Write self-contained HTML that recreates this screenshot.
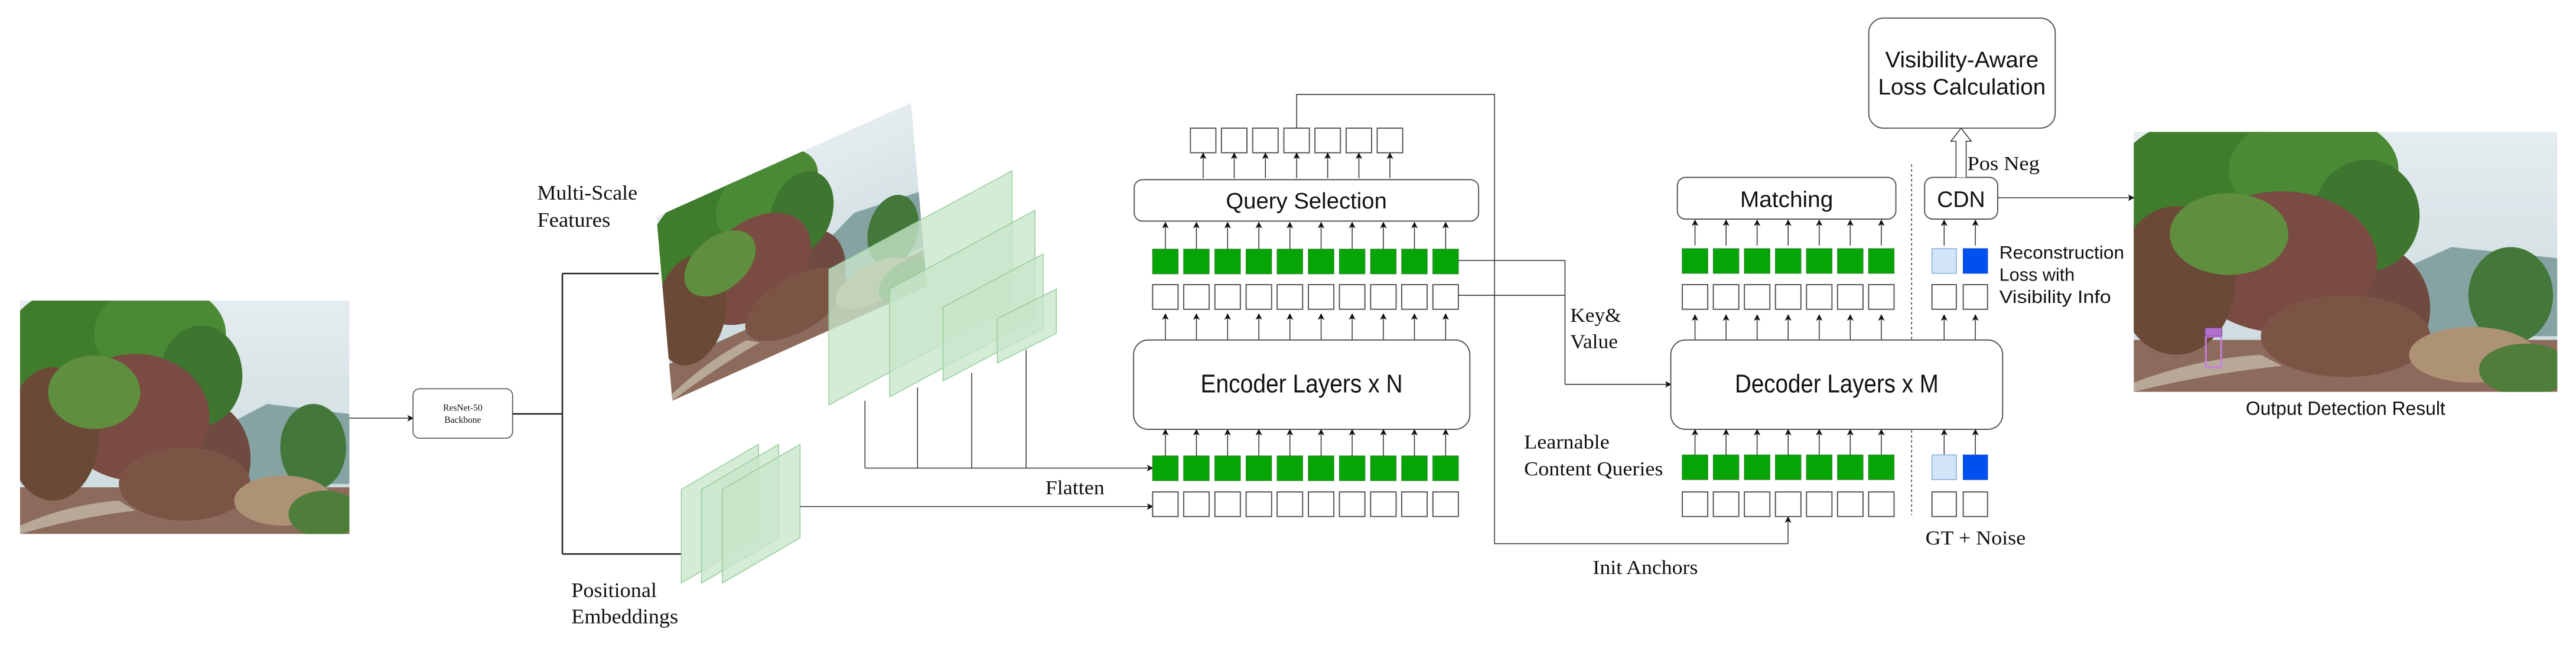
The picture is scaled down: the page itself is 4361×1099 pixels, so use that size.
<!DOCTYPE html>
<html><head><meta charset="utf-8"><style>
html,body{margin:0;padding:0;background:#fff;}
svg{display:block;}
.s{font-family:"Liberation Sans",sans-serif;fill:#111;}
.r{font-family:"Liberation Serif",serif;fill:#111;}
.w{fill:#fff;stroke:#555;stroke-width:0.7;}
.g{fill:#04a504;stroke:#2e8b2e;stroke-width:0.5;}
.ln{stroke:#333;stroke-width:0.55;fill:none;}
.pl{fill:#c8e6cb;fill-opacity:0.78;stroke:#90cc92;stroke-width:0.5;}
</style></head><body>
<svg width="4361" height="1099" viewBox="0 0 1568 395.14" preserveAspectRatio="none" xmlns="http://www.w3.org/2000/svg">
<defs>
<marker id="a" markerWidth="4" markerHeight="4" refX="3.5" refY="2" orient="auto" markerUnits="userSpaceOnUse"><path d="M0,0 L4,2 L0,4 L1,2 z" fill="#111"/></marker>
<clipPath id="pc"><rect x="0" y="0" width="200" height="140"/></clipPath>
<linearGradient id="sky" x1="0" y1="0" x2="0" y2="1"><stop offset="0" stop-color="#e4ecef"/><stop offset="1" stop-color="#c9d8dc"/></linearGradient>
<g id="ph" clip-path="url(#pc)">
<rect x="0" y="0" width="200" height="140" fill="url(#sky)"/>
<path d="M115,80 L150,62 L200,68 L200,110 L115,110z" fill="#86a3a3"/>
<rect x="0" y="112" width="200" height="28" fill="#8c6b5c"/>
<ellipse cx="110" cy="95" rx="30" ry="35" fill="#6e4a40"/>
<ellipse cx="35" cy="30" rx="45" ry="38" fill="#3f7d2d"/>
<ellipse cx="85" cy="20" rx="40" ry="30" fill="#4b8a35"/>
<ellipse cx="110" cy="45" rx="25" ry="30" fill="#3e7630"/>
<ellipse cx="70" cy="70" rx="45" ry="38" fill="#7a4b42"/>
<ellipse cx="20" cy="80" rx="28" ry="40" fill="#6a4a36"/>
<ellipse cx="45" cy="55" rx="28" ry="22" fill="#5f8f3e"/>
<ellipse cx="100" cy="110" rx="40" ry="22" fill="#7b5446"/>
<ellipse cx="178" cy="88" rx="20" ry="26" fill="#43783a"/>
<ellipse cx="160" cy="120" rx="30" ry="15" fill="#ae9276"/>
<ellipse cx="185" cy="128" rx="22" ry="14" fill="#4f7d3a"/>
<path d="M0,135 Q30,122 60,120 L70,126 Q35,130 0,140z" fill="#b8a898"/>
</g>
</defs>

<use href="#ph" transform="translate(12.2,183) scale(1.0025,1.015)"/>
<line x1="212.7" y1="254.6" x2="251.4" y2="254.6" class="ln" marker-end="url(#a)"/>
<rect x="251.4" y="236.7" width="60.6" height="30.1" rx="4" fill="#fff" stroke="#555" stroke-width="0.6"/>
<text x="281.7" y="250" class="r" font-size="5.6" text-anchor="middle" fill="#444">ResNet-50</text>
<text x="281.7" y="257.5" class="r" font-size="5.6" text-anchor="middle" fill="#444">Backbone</text>
<path d="M312,252 H342.3 M342.3,166.5 V337.3 M342.3,166.5 H401 M342.3,337.3 H415" stroke="#222" stroke-width="0.9" fill="none"/>

<text x="327" y="121.5" class="r" font-size="12.5" textLength="61" lengthAdjust="spacingAndGlyphs">Multi-Scale</text>
<text x="327" y="138" class="r" font-size="12.5" textLength="44.5" lengthAdjust="spacingAndGlyphs">Features</text>

<use href="#ph" transform="matrix(0.775,-0.3475,0.0686,0.8,399.6,132)"/>
<polygon class="pl" points="504.5,164 616,104 616,186.6 504.5,246.6"/>
<polygon class="pl" points="541.5,176 630,128 630,193.7 541.5,241.7"/>
<polygon class="pl" points="574,187 635,154.6 635,199.6 574,232"/>
<polygon class="pl" points="607,194 643,176 643,203 607,221"/>
<path class="ln" d="M526.5,244 V285 M558.5,236 V285 M591.5,227 V285 M624.6,213 V285"/>
<line x1="526.5" y1="285" x2="701.6" y2="285" class="ln" marker-end="url(#a)"/>
<text x="636.3" y="301" class="r" font-size="12" textLength="36" lengthAdjust="spacingAndGlyphs">Flatten</text>

<polygon class="pl" points="414.7,298 461.7,270.5 461.7,327.5 414.7,355"/>
<polygon class="pl" points="427,298 474,270.5 474,327.5 427,355"/>
<polygon class="pl" points="439.7,298 487,270.5 487,327.5 439.7,355"/>
<line x1="487" y1="308.4" x2="701.6" y2="308.4" class="ln" marker-end="url(#a)"/>
<text x="347.8" y="363.5" class="r" font-size="12.5" textLength="52" lengthAdjust="spacingAndGlyphs">Positional</text>
<text x="347.8" y="379.5" class="r" font-size="12.5" textLength="65" lengthAdjust="spacingAndGlyphs">Embeddings</text>

<g id="encrow">
<rect class="w" x="701.6" y="299.5" width="15.5" height="15"/><rect class="w" x="720.5" y="299.5" width="15.5" height="15"/><rect class="w" x="739.5" y="299.5" width="15.5" height="15"/><rect class="w" x="758.5" y="299.5" width="15.5" height="15"/><rect class="w" x="777.4" y="299.5" width="15.5" height="15"/><rect class="w" x="796.4" y="299.5" width="15.5" height="15"/><rect class="w" x="815.3" y="299.5" width="15.5" height="15"/><rect class="w" x="834.3" y="299.5" width="15.5" height="15"/><rect class="w" x="853.2" y="299.5" width="15.5" height="15"/><rect class="w" x="872.2" y="299.5" width="15.5" height="15"/>
</g>
<use href="#encrow" transform="translate(0,-126.2)"/>
<g id="encg">
<rect class="g" x="701.6" y="277.6" width="15.5" height="15"/><rect class="g" x="720.5" y="277.6" width="15.5" height="15"/><rect class="g" x="739.5" y="277.6" width="15.5" height="15"/><rect class="g" x="758.5" y="277.6" width="15.5" height="15"/><rect class="g" x="777.4" y="277.6" width="15.5" height="15"/><rect class="g" x="796.4" y="277.6" width="15.5" height="15"/><rect class="g" x="815.3" y="277.6" width="15.5" height="15"/><rect class="g" x="834.3" y="277.6" width="15.5" height="15"/><rect class="g" x="853.2" y="277.6" width="15.5" height="15"/><rect class="g" x="872.2" y="277.6" width="15.5" height="15"/>
</g>
<use href="#encg" transform="translate(0,-125.9)"/>
<g id="encar" class="ln">
<line x1="709.35" y1="277.6" x2="709.35" y2="261.6" marker-end="url(#a)"/><line x1="728.25" y1="277.6" x2="728.25" y2="261.6" marker-end="url(#a)"/><line x1="747.25" y1="277.6" x2="747.25" y2="261.6" marker-end="url(#a)"/><line x1="766.25" y1="277.6" x2="766.25" y2="261.6" marker-end="url(#a)"/><line x1="785.15" y1="277.6" x2="785.15" y2="261.6" marker-end="url(#a)"/><line x1="804.15" y1="277.6" x2="804.15" y2="261.6" marker-end="url(#a)"/><line x1="823.05" y1="277.6" x2="823.05" y2="261.6" marker-end="url(#a)"/><line x1="842.05" y1="277.6" x2="842.05" y2="261.6" marker-end="url(#a)"/><line x1="860.95" y1="277.6" x2="860.95" y2="261.6" marker-end="url(#a)"/><line x1="879.95" y1="277.6" x2="879.95" y2="261.6" marker-end="url(#a)"/>
</g>
<use href="#encar" transform="translate(0,-70.4)"/>
<use href="#encar" transform="translate(0,-126.1)"/>
<rect x="690" y="207" width="204.7" height="54.4" rx="9" fill="#fff" stroke="#555" stroke-width="0.7"/>
<text x="792.3" y="239" class="s" font-size="15.5" text-anchor="middle" textLength="123" lengthAdjust="spacingAndGlyphs">Encoder Layers x N</text>
<rect x="690.4" y="109.4" width="209.6" height="25.2" rx="5" fill="#fff" stroke="#555" stroke-width="0.7"/>
<text x="795.2" y="127" class="s" font-size="13.5" text-anchor="middle" textLength="98" lengthAdjust="spacingAndGlyphs">Query Selection</text>
<rect class="w" x="724.6" y="78" width="15.5" height="15"/><rect class="w" x="743.5" y="78" width="15.5" height="15"/><rect class="w" x="762.5" y="78" width="15.5" height="15"/><rect class="w" x="781.5" y="78" width="15.5" height="15"/><rect class="w" x="800.4" y="78" width="15.5" height="15"/><rect class="w" x="819.4" y="78" width="15.5" height="15"/><rect class="w" x="838.3" y="78" width="15.5" height="15"/>
<g class="ln">
<line x1="732.35" y1="108.5" x2="732.35" y2="93.3" marker-end="url(#a)"/><line x1="751.25" y1="108.5" x2="751.25" y2="93.3" marker-end="url(#a)"/><line x1="770.25" y1="108.5" x2="770.25" y2="93.3" marker-end="url(#a)"/><line x1="789.25" y1="108.5" x2="789.25" y2="93.3" marker-end="url(#a)"/><line x1="808.15" y1="108.5" x2="808.15" y2="93.3" marker-end="url(#a)"/><line x1="827.15" y1="108.5" x2="827.15" y2="93.3" marker-end="url(#a)"/><line x1="846.05" y1="108.5" x2="846.05" y2="93.3" marker-end="url(#a)"/>
</g>
<path class="ln" d="M789.25,78 V57.5 H909.7 V331 H1088.4"/>
<line x1="1088.4" y1="331" x2="1088.4" y2="314.8" class="ln" marker-end="url(#a)"/>
<text x="969.5" y="349.5" class="r" font-size="12" textLength="64" lengthAdjust="spacingAndGlyphs">Init Anchors</text>

<path class="ln" d="M887.7,158.6 H952.6 V234 M887.7,179.8 H952.6"/>
<line x1="952.6" y1="234" x2="1017" y2="234" class="ln" marker-end="url(#a)"/>
<text x="955.8" y="196" class="r" font-size="12" textLength="31" lengthAdjust="spacingAndGlyphs">Key&amp;</text>
<text x="955.8" y="212" class="r" font-size="12" textLength="29" lengthAdjust="spacingAndGlyphs">Value</text>
<text x="927.7" y="273" class="r" font-size="12" textLength="52" lengthAdjust="spacingAndGlyphs">Learnable</text>
<text x="927.7" y="289.5" class="r" font-size="12" textLength="84.6" lengthAdjust="spacingAndGlyphs">Content Queries</text>

<line x1="1163.6" y1="100" x2="1163.6" y2="313.6" stroke="#333" stroke-width="0.55" stroke-dasharray="1.5,1.5"/>
<g id="decw">
<rect class="w" x="1024" y="299.5" width="15.5" height="15"/><rect class="w" x="1042.9" y="299.5" width="15.5" height="15"/><rect class="w" x="1061.8" y="299.5" width="15.5" height="15"/><rect class="w" x="1080.7" y="299.5" width="15.5" height="15"/><rect class="w" x="1099.6" y="299.5" width="15.5" height="15"/><rect class="w" x="1118.5" y="299.5" width="15.5" height="15"/><rect class="w" x="1137.4" y="299.5" width="15.5" height="15"/>
</g>
<use href="#decw" transform="translate(0,-126.2)"/>
<g id="decg">
<rect class="g" x="1024" y="277" width="15.5" height="15"/><rect class="g" x="1042.9" y="277" width="15.5" height="15"/><rect class="g" x="1061.8" y="277" width="15.5" height="15"/><rect class="g" x="1080.7" y="277" width="15.5" height="15"/><rect class="g" x="1099.6" y="277" width="15.5" height="15"/><rect class="g" x="1118.5" y="277" width="15.5" height="15"/><rect class="g" x="1137.4" y="277" width="15.5" height="15"/>
</g>
<use href="#decg" transform="translate(0,-125.6)"/>
<g id="decar" class="ln">
<line x1="1031.75" y1="277" x2="1031.75" y2="261.6" marker-end="url(#a)"/><line x1="1050.65" y1="277" x2="1050.65" y2="261.6" marker-end="url(#a)"/><line x1="1069.55" y1="277" x2="1069.55" y2="261.6" marker-end="url(#a)"/><line x1="1088.45" y1="277" x2="1088.45" y2="261.6" marker-end="url(#a)"/><line x1="1107.35" y1="277" x2="1107.35" y2="261.6" marker-end="url(#a)"/><line x1="1126.25" y1="277" x2="1126.25" y2="261.6" marker-end="url(#a)"/><line x1="1145.15" y1="277" x2="1145.15" y2="261.6" marker-end="url(#a)"/>
<line x1="1183.4" y1="277" x2="1183.4" y2="261.6" marker-end="url(#a)"/><line x1="1202.4" y1="277" x2="1202.4" y2="261.6" marker-end="url(#a)"/>
</g>
<use href="#decar" transform="translate(0,-69.8)"/>
<use href="#decar" transform="translate(0,-127.5)"/>
<rect x="1017" y="207" width="202" height="54.4" rx="9" fill="#fff" stroke="#555" stroke-width="0.7"/>
<text x="1118" y="239" class="s" font-size="15.5" text-anchor="middle" textLength="124" lengthAdjust="spacingAndGlyphs">Decoder Layers x M</text>
<rect x="1021" y="108" width="133" height="25.4" rx="5" fill="#fff" stroke="#555" stroke-width="0.7"/>
<text x="1087.5" y="126" class="s" font-size="13.5" text-anchor="middle" textLength="56.6" lengthAdjust="spacingAndGlyphs">Matching</text>
<rect class="w" x="1176" y="299.5" width="14.8" height="15"/><rect class="w" x="1195" y="299.5" width="14.8" height="15"/>
<rect class="w" x="1176" y="173.3" width="14.8" height="15"/><rect class="w" x="1195" y="173.3" width="14.8" height="15"/>
<rect x="1176" y="277" width="14.8" height="15" fill="#d3e5f8" stroke="#8fb3de" stroke-width="0.6"/><rect x="1195" y="277" width="14.8" height="15" fill="#0050ef" stroke="#1a4fcf" stroke-width="0.5"/>
<rect x="1176" y="151.4" width="14.8" height="15" fill="#d3e5f8" stroke="#8fb3de" stroke-width="0.6"/><rect x="1195" y="151.4" width="14.8" height="15" fill="#0050ef" stroke="#1a4fcf" stroke-width="0.5"/>
<rect x="1171.5" y="108" width="44.5" height="25.4" rx="5" fill="#fff" stroke="#555" stroke-width="0.7"/>
<text x="1193.7" y="126" class="s" font-size="13.5" text-anchor="middle" textLength="29.3" lengthAdjust="spacingAndGlyphs">CDN</text>
<text x="1217" y="157.5" class="s" font-size="11" textLength="76" lengthAdjust="spacingAndGlyphs">Reconstruction</text>
<text x="1217" y="171" class="s" font-size="11">Loss with</text>
<text x="1217" y="184.5" class="s" font-size="11" textLength="68" lengthAdjust="spacingAndGlyphs">Visibility Info</text>
<text x="1172" y="331.5" class="r" font-size="12" textLength="61" lengthAdjust="spacingAndGlyphs">GT + Noise</text>
<path d="M1190.6,108 V86 H1187.5 L1193.7,78 L1199.9,86 H1196.8 V108" fill="#fff" stroke="#444" stroke-width="0.6"/>
<text x="1197.5" y="103.5" class="r" font-size="12" textLength="44" lengthAdjust="spacingAndGlyphs">Pos Neg</text>
<rect x="1137.5" y="11" width="113.5" height="67" rx="9" fill="#fff" stroke="#555" stroke-width="0.7"/>
<text x="1194.2" y="41" class="s" font-size="13.5" text-anchor="middle" textLength="93.4" lengthAdjust="spacingAndGlyphs">Visibility-Aware</text>
<text x="1194.2" y="57.5" class="s" font-size="13.5" text-anchor="middle" textLength="102" lengthAdjust="spacingAndGlyphs">Loss Calculation</text>
<line x1="1216" y1="120.4" x2="1298.8" y2="120.4" class="ln" marker-end="url(#a)"/>
<use href="#ph" transform="translate(1298.8,80.3) scale(1.289,1.1307)"/>
<rect x="1342.7" y="205" width="9.3" height="18.7" fill="none" stroke="#c77ee6" stroke-width="1"/>
<rect x="1342.2" y="199.6" width="10.3" height="5" fill="#b070cc" stroke="#6a3a80" stroke-width="0.3"/>
<text x="1427.7" y="252.5" class="s" font-size="11.5" text-anchor="middle" textLength="121.5" lengthAdjust="spacingAndGlyphs">Output Detection Result</text>
</svg>
</body></html>
